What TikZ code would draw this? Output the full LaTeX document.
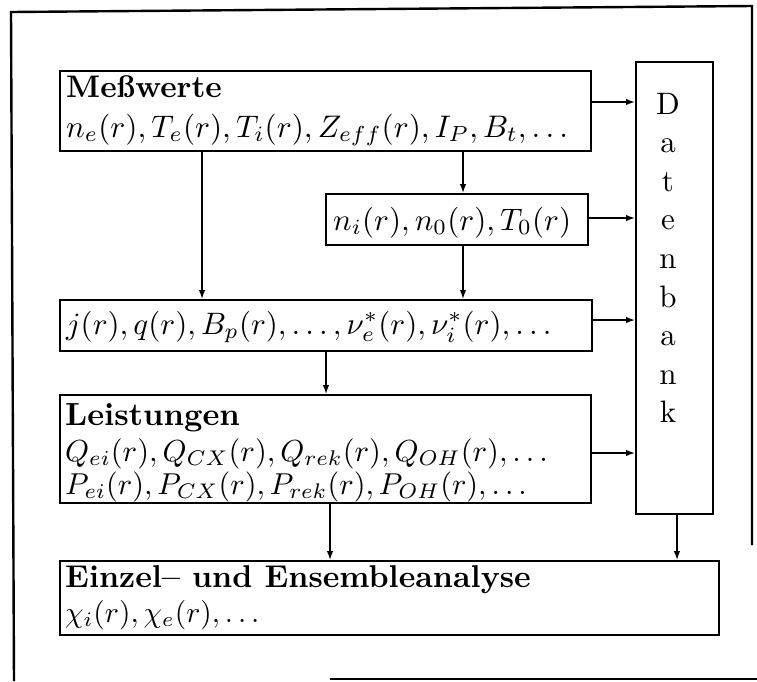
\documentclass[tikz,border=0pt]{standalone}
\usetikzlibrary{arrows.meta}
% text is set at 10pt and magnified, like an enlarged printed figure
\newcommand{\magtext}[2][3.1]{\scalebox{#1}{#2}}
\begin{document}
\begin{tikzpicture}[x=1pt,y=-1pt,
  box/.style={draw, line width=2.1pt, rectangle, inner sep=0pt, anchor=north west},
  flow/.style={-{Latex[length=9pt,width=6.5pt]}, line width=1.4pt},
  txt/.style={anchor=base west, inner sep=0pt},
  letter/.style={anchor=base, inner sep=0pt},
]
\useasboundingbox (0,0) rectangle (757,681);
\fill[white] (0,0) rectangle (757,681);

% surrounding frame
\draw[line width=2.4pt] (14,681) -- (11,12) -- (752,6) -- (752,545);
\draw[line width=2.4pt] (330,679) -- (757,679);

% boxes
\node[box, minimum width=531pt, minimum height=80pt] (mess) at (59,70) {};
\node[box, minimum width=77pt, minimum height=452pt] (db) at (635,61) {};
\node[box, minimum width=262pt, minimum height=51pt] (ni) at (325,193) {};
\node[box, minimum width=532pt, minimum height=51pt] (jq) at (59,299) {};
\node[box, minimum width=531pt, minimum height=108pt] (leist) at (59,394) {};
\node[box, minimum width=659pt, minimum height=74pt] (einzel) at (59,560) {};

% texts
\node[txt] (t1) at (66,97) {\magtext[3.12]{\bfseries Meßwerte}};
\node[txt] (f1) at (66,137) {\magtext[3.12]{$n_e(r), T_e(r), T_i(r), Z_{eff}(r), I_P, B_t, \ldots$}};
\node[txt] (f2) at (333,230) {\magtext{$n_i(r), n_0(r), T_0(r)$}};
\node[txt] (f3) at (66,334) {\magtext{$j(r), q(r), B_p(r), \ldots, \nu_e^*(r), \nu_i^*(r), \ldots$}};
\node[txt] (t2) at (65,425) {\magtext[3.2]{\bfseries Leistungen}};
\node[txt] (f4) at (65,461) {\magtext[3.04]{$Q_{ei}(r), Q_{CX}(r), Q_{rek}(r), Q_{OH}(r), \ldots$}};
\node[txt] (f5) at (65,494) {\magtext[3.02]{$P_{ei}(r), P_{CX}(r), P_{rek}(r), P_{OH}(r), \ldots$}};
\node[txt] (t3) at (65,587) {\magtext[3.15]{\bfseries Einzel-- und Ensembleanalyse}};
\node[txt] (f6) at (65,622) {\magtext[2.95]{$\chi_i(r), \chi_e(r), \ldots$}};

% vertical lettering of the database box
\foreach \c [count=\i] in {D,a,t,e,n,b,a,n,k}
  \node[letter] (dbl\i) at (668, 114+38.6*\i-38.6) {\magtext{\c}};

% connectors
\draw[flow] (mess.east |- 0,102) -- (db.west |- 0,102);
\draw[flow] (mess.south -| 463,0) -- (ni.north -| 463,0);
\draw[flow] (mess.south -| 202,0) -- (jq.north -| 202,0);
\draw[flow] (ni.south -| 463,0) -- (jq.north -| 463,0);
\draw[flow] (ni.east |- 0,218) -- (db.west |- 0,218);
\draw[flow] (jq.east |- 0,320) -- (db.west |- 0,320);
\draw[flow] (jq.south -| 326,0) -- (leist.north -| 326,0);
\draw[flow] (leist.east |- 0,453) -- (db.west |- 0,453);
\draw[flow] (leist.south -| 330,0) -- (einzel.north -| 330,0);
\draw[flow] (db.south -| 677,0) -- (einzel.north -| 677,0);
\end{tikzpicture}
\end{document}
